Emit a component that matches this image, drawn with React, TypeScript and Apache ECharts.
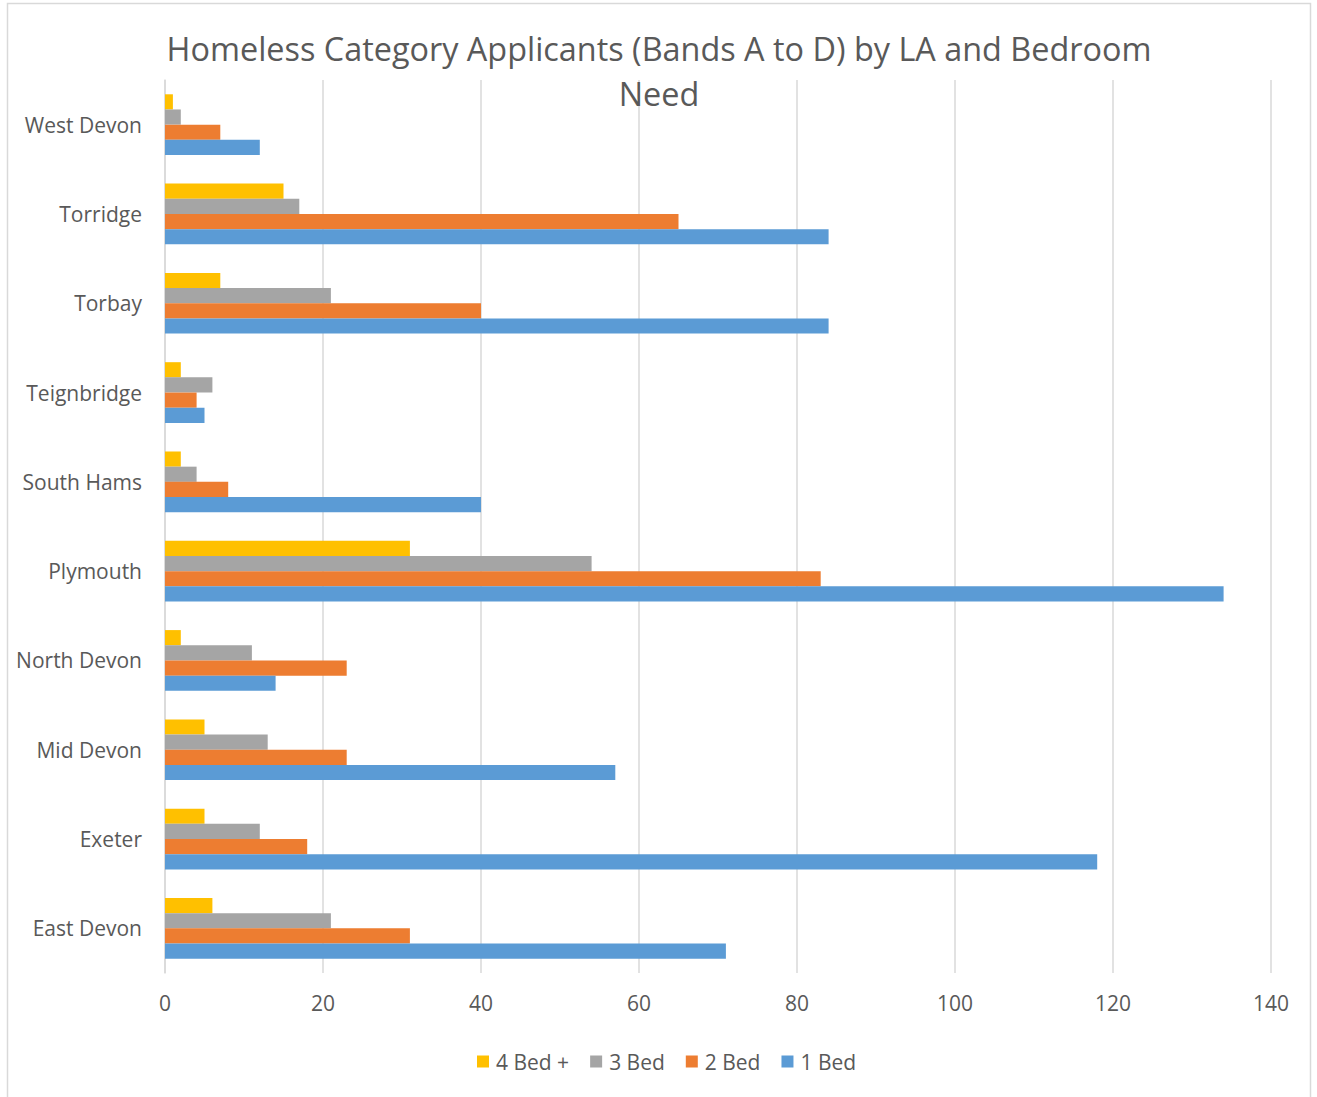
import React, { useEffect, useRef } from "react";
import * as echarts from "echarts";

const categories = [
  "East Devon",
  "Exeter",
  "Mid Devon",
  "North Devon",
  "Plymouth",
  "South Hams",
  "Teignbridge",
  "Torbay",
  "Torridge",
  "West Devon",
];

const bed1 = [71, 118, 57, 14, 134, 40, 5, 84, 84, 12];
const bed2 = [31, 18, 23, 23, 83, 8, 4, 40, 65, 7];
const bed3 = [21, 12, 13, 11, 54, 4, 6, 21, 17, 2];
const bed4 = [6, 5, 5, 2, 31, 2, 2, 7, 15, 1];

const xTicks = [0, 20, 40, 60, 80, 100, 120, 140];

const titleText = "Homeless Category Applicants (Bands A to D) by LA and Bedroom\nNeed";

export default function App() {
  const ref = useRef<HTMLDivElement>(null);

  useEffect(() => {
    if (!ref.current) return;
    const chart = echarts.init(ref.current, undefined, { renderer: "svg" });
    const font = "'Open Sans', 'Noto Sans', sans-serif";
    const textColor = "#595959";
    chart.setOption({
      animation: false,
      backgroundColor: "#ffffff",
      textStyle: { fontFamily: font },
      title: {
        text: titleText,
        left: 654,
        textAlign: "center",
        top: 20,
        textStyle: {
          fontFamily: font,
          fontSize: 32.4,
          fontWeight: "normal",
          color: textColor,
          lineHeight: 45,
        },
      },
      legend: {
        data: ["4 Bed +", "3 Bed", "2 Bed", "1 Bed"],
        bottom: 20,
        left: 472,
        icon: "rect",
        itemWidth: 12,
        itemHeight: 12,
        itemGap: 21,
        textStyle: { fontFamily: font, fontSize: 21, color: textColor, padding: [0, 0, 0, 2] },
      },
      graphic: [
        {
          type: "rect",
          shape: { x: 7.5, y: 3.5, width: 1303, height: 1110 },
          style: { fill: "none", stroke: "#d9d9d9", lineWidth: 1.5 },
          silent: true,
        },
      ],
      grid: { left: 165, right: 46, top: 80, bottom: 124, containLabel: false },
      xAxis: {
        type: "value",
        min: xTicks[0],
        max: xTicks[xTicks.length - 1],
        interval: 20,
        axisLine: { show: false },
        axisTick: { show: false },
        splitLine: { show: true, lineStyle: { color: "#d9d9d9", width: 1.5 } },
        axisLabel: {
          fontFamily: font,
          fontSize: 21,
          color: textColor,
          margin: 19,
        },
      },
      yAxis: {
        type: "category",
        data: categories,
        axisLine: { show: true, lineStyle: { color: "#d9d9d9", width: 1.5 } },
        axisTick: { show: false },
        axisLabel: {
          fontFamily: font,
          fontSize: 21,
          color: textColor,
          margin: 23,
        },
      },
      series: [
        { name: "4 Bed +", type: "bar", data: bed4, itemStyle: { color: "#FFC000" }, barGap: "0%", barCategoryGap: "32%" },
        { name: "3 Bed", type: "bar", data: bed3, itemStyle: { color: "#A5A5A5" }, barGap: "0%", barCategoryGap: "32%" },
        { name: "2 Bed", type: "bar", data: bed2, itemStyle: { color: "#ED7D31" }, barGap: "0%", barCategoryGap: "32%" },
        { name: "1 Bed", type: "bar", data: bed1, itemStyle: { color: "#5B9BD5" }, barGap: "0%", barCategoryGap: "32%" },
      ],
    });
    return () => chart.dispose();
  }, []);

  return (
    <div
      ref={ref}
      style={{ position: "absolute", left: 0, top: 0, width: 1317, height: 1097 }}
    />
  );
}
